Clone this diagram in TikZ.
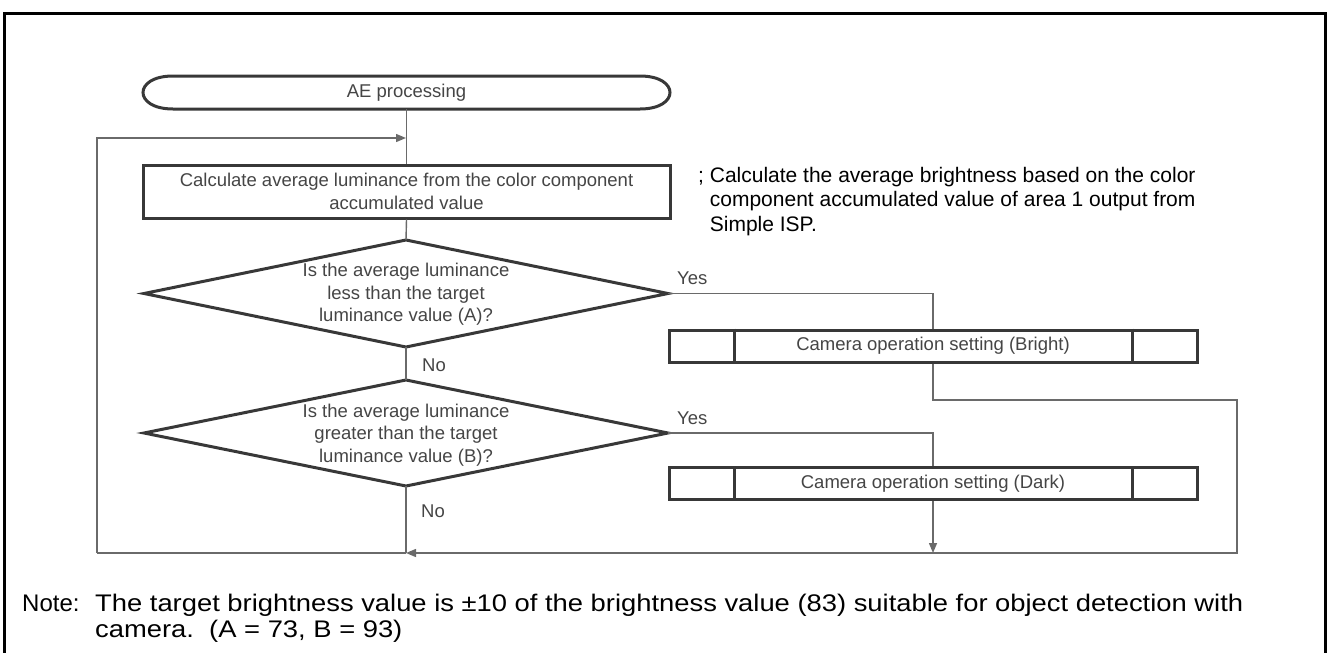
\documentclass[tikz,border=0pt]{standalone}
\usepackage{fontspec}
\setmainfont{Liberation Sans}
\newfontfamily\notefont[FakeStretch=1.14]{Liberation Sans}
\usetikzlibrary{arrows.meta}
\definecolor{shapec}{HTML}{383838}
\definecolor{linec}{HTML}{6A6A6A}
\definecolor{txtc}{HTML}{454545}
\begin{document}
\begin{tikzpicture}[x=1pt,y=-1pt,
  shp/.style={draw=shapec, line width=3pt},
  conn/.style={draw=linec, line width=1.4pt},
  arr/.style={conn, -{Triangle[length=10pt,width=8pt]}},
  dtext/.style={text=txtc, font=\fontsize{18.5}{22.5}\selectfont, align=center, inner sep=0pt},
  lbl/.style={text=txtc, font=\fontsize{18.5}{22.5}\selectfont, inner sep=0pt, anchor=west},
  ctext/.style={text=black, font=\fontsize{21}{24.5}\selectfont, align=left, inner sep=0pt},
  ntext/.style={text=black, font=\notefont\fontsize{24}{27}\selectfont, inner sep=0pt, anchor=base west},
  nlabel/.style={text=black, font=\fontsize{24}{27}\selectfont, inner sep=0pt, anchor=base west},
  procbox/.style={shp, dtext, minimum width=528pt, minimum height=32pt},
]
\useasboundingbox (0,0) rectangle (1328,653);
% outer frame
\draw[line width=3pt] (4,670) -- (4,13) -- (1325,13) -- (1325,670);

% terminal
\node[dtext, minimum width=527pt, minimum height=33pt] (term) at (406.5,92.5) {AE processing};
\draw[shp] (173,76) -- (640,76) .. controls (680,76) and (680,109) .. (640,109)
  -- (173,109) .. controls (133,109) and (133,76) .. (173,76) -- cycle;

% calculation box
\node[shp, dtext, minimum width=527pt, minimum height=53pt] (calc) at (406.5,191.5)
  {Calculate average luminance from the color component\\accumulated value};

% comment
\node[ctext, anchor=north west] (cmt) at (698,167)
  {; Calculate the average brightness based on the color\\\hphantom{; }component accumulated value of area 1 output from\\\hphantom{; }Simple ISP.};

% diamond 1
\coordinate (d1t) at (406,240);
\coordinate (d1r) at (668,293.5);
\coordinate (d1b) at (406,347);
\coordinate (d1l) at (144,293.5);
\draw[shp] (d1t) -- (d1r) -- (d1b) -- (d1l) -- cycle;
\node[dtext] (q1) at (406,294.5) {Is the average luminance\\less than the target\\luminance value (A)?};

% diamond 2
\coordinate (d2t) at (406,380);
\coordinate (d2r) at (668,433);
\coordinate (d2b) at (406,486);
\coordinate (d2l) at (144,433);
\draw[shp] (d2t) -- (d2r) -- (d2b) -- (d2l) -- cycle;
\node[dtext] (q2) at (406,435) {Is the average luminance\\greater than the target\\luminance value (B)?};

% predefined process boxes
\node[procbox] (bright) at (933,346) {Camera operation setting (Bright)};
\draw[shp] ([xshift=67pt]bright.north west) -- ([xshift=67pt]bright.south west);
\draw[shp] ([xshift=-66pt]bright.north east) -- ([xshift=-66pt]bright.south east);
\node[procbox] (dark) at (933,483.5) {Camera operation setting (Dark)};
\draw[shp] ([xshift=67pt]dark.north west) -- ([xshift=67pt]dark.south west);
\draw[shp] ([xshift=-66pt]dark.north east) -- ([xshift=-66pt]dark.south east);

% helper coordinates
\coordinate (loopin) at (406,138);
\coordinate (loopl) at (97,138);
\coordinate (loopbl) at (97,553);
\coordinate (merge) at (406,553);
\coordinate (rc1) at (1237,400);
\coordinate (rc2) at (1237,553);
\coordinate (dk) at (933,553);

% connectors
\draw[conn] (term.south) -- (calc.north);
\draw[conn] (calc.south) -- (d1t);
\draw[conn] (d1b) -- (d2t);
\draw[conn] (d2b) -- (merge);
\draw[arr] (loopbl) -- (loopl) -- (loopin);
\draw[conn] (merge) -- (loopbl);
\draw[conn] (d1r) -| (bright.north);
\draw[arr] (bright.south) |- (rc1) -- (rc2) -- (merge);
\draw[conn] (d2r) -| (dark.north);
\draw[arr] (dark.south) -- (dk);

% labels
\node[lbl] (y1) at (677,278) {Yes};
\node[lbl] (n1) at (422,365) {No};
\node[lbl] (y2) at (677,418) {Yes};
\node[lbl] (n2) at (421,511) {No};

% note
\node[nlabel] (notel) at (22,611) {Note:};
\node[ntext] (note1) at (95,611) {The target brightness value is ±10 of the brightness value (83) suitable for object detection with};
\node[ntext] (note2) at (95,637) {camera.\ \ (A = 73, B = 93)};
\end{tikzpicture}
\end{document}
